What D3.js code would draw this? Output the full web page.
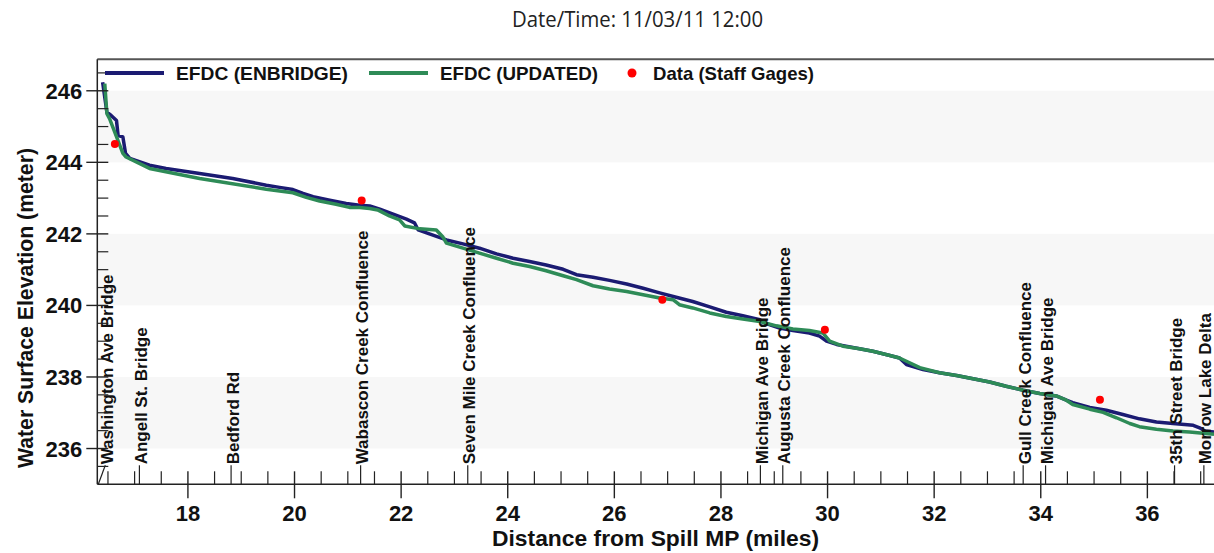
<!DOCTYPE html>
<html>
<head>
<meta charset="utf-8">
<script src="https://cdn.jsdelivr.net/npm/d3@7"></script>
<style>
  html, body { margin: 0; padding: 0; background: #fff; }
  svg { display: block; }
  text { font-family: "Liberation Sans", Arial, sans-serif; }
</style>
</head>
<body>
<div id="chart"></div>
<script>
// ---------------- DATA ----------------
const titleText = "Date/Time: 11/03/11 12:00";
const seriesNames = ["EFDC (ENBRIDGE)", "EFDC (UPDATED)", "Data (Staff Gages)"];

const enbridgeMiles = [16.40,16.48,16.56,16.66,16.69,16.78,16.83,16.91,17.28,17.59,18.22,18.84,19.47,19.72,19.97,20.16,20.35,20.66,20.97,21.22,21.41,21.60,21.85,22.10,22.25,22.32,22.53,22.85,23.16,23.47,23.79,24.10,24.41,24.72,25.04,25.29,25.60,25.91,26.23,26.54,26.85,27.16,27.47,27.79,28.10,28.41,28.73,28.85,29.10,29.35,29.66,29.85,29.98,30.17,30.60,30.85,31.17,31.35,31.48,31.79,32.10,32.42,32.73,33.04,33.35,33.67,33.98,34.29,34.48,34.60,34.92,35.23,35.54,35.85,36.17,36.48,36.86,36.98,37.08,37.25];
const enbridgeElev  = [246.24,245.40,245.31,245.17,244.75,244.71,244.25,244.11,243.92,243.83,243.69,243.55,243.36,243.30,243.24,243.13,243.04,242.94,242.85,242.80,242.78,242.69,242.55,242.41,242.31,242.11,242.00,241.83,241.72,241.60,241.44,241.32,241.23,241.13,241.01,240.86,240.79,240.70,240.60,240.48,240.35,240.23,240.11,239.96,239.81,239.71,239.60,239.49,239.37,239.30,239.23,239.14,239.00,238.91,238.79,238.72,238.60,238.53,238.35,238.21,238.12,238.04,237.95,237.86,237.74,237.63,237.54,237.47,237.35,237.28,237.15,237.07,236.95,236.83,236.74,236.70,236.65,236.58,236.49,236.46];

const updatedMiles = [16.44,16.48,16.53,16.78,16.84,17.28,18.22,19.47,19.72,19.97,20.22,20.47,20.78,21.03,21.22,21.41,21.56,21.78,21.97,22.07,22.35,22.66,22.78,22.85,23.16,23.47,23.79,24.10,24.41,24.72,25.04,25.29,25.60,25.91,26.23,26.54,26.85,27.10,27.22,27.47,27.79,28.10,28.41,28.73,29.04,29.35,29.66,29.91,30.04,30.29,30.60,30.85,31.17,31.35,31.48,31.73,32.10,32.42,32.73,33.04,33.35,33.67,33.98,34.29,34.48,34.60,34.92,35.17,35.42,35.67,35.85,36.17,36.48,36.79,37.25];
const updatedElev  = [246.20,245.36,245.22,244.25,244.15,243.83,243.55,243.25,243.20,243.15,243.02,242.92,242.83,242.74,242.74,242.71,242.67,242.50,242.39,242.22,242.14,242.11,241.92,241.74,241.60,241.46,241.32,241.18,241.09,240.97,240.83,240.72,240.55,240.46,240.39,240.30,240.21,240.16,240.02,239.93,239.79,239.69,239.62,239.55,239.43,239.34,239.30,239.23,239.00,238.86,238.79,238.72,238.60,238.53,238.44,238.26,238.12,238.04,237.95,237.86,237.74,237.63,237.54,237.47,237.35,237.23,237.10,237.01,236.86,236.70,236.61,236.54,236.49,236.46,236.40];

const gageMiles = [16.63, 21.26, 26.90, 29.95, 35.11];
const gageElev  = [244.51, 242.93, 240.16, 239.32, 237.36];

const landmarkNames = ["Washington Ave Bridge","Angell St. Bridge","Bedford Rd","Wabascon Creek Confluence","Seven Mile Creek Confluence","Michigan Ave Bridge","Augusta Creek Confluence","Gull Creek Confluence","Michigan Ave Bridge","35th Street Bridge","Morrow Lake Delta"];
const landmarkMiles = [16.45, 17.09, 18.81, 21.24, 23.25, 28.74, 29.16, 33.67, 34.09, 36.51, 37.06];

const xTickValues = [18, 20, 22, 24, 26, 28, 30, 32, 34, 36];
const yTickValues = [236, 238, 240, 242, 244, 246];
const bandRanges = [[244, 246], [240, 242], [236, 238]];

// ---------------- LAYOUT ----------------
const W = 1214, H = 553;
const pLeft = 97.3, pRight = 1214, pTop = 59.3, pBottom = 484.3;
const navy = "#1b1b72", green = "#2e8b57", red = "#ff0000";

const svg = d3.select("#chart").append("svg").attr("width", W).attr("height", H);

const x = d3.scaleLinear().domain([16.30, 37.25]).range([pLeft, pRight]);
const y = d3.scaleLinear().domain([235, 246.88]).range([pBottom, pTop]);

svg.append("defs").append("clipPath").attr("id", "plotclip")
  .append("rect").attr("x", pLeft).attr("y", pTop).attr("width", pRight - pLeft).attr("height", pBottom - pTop);

// bands
svg.append("g").selectAll("rect").data(bandRanges).join("rect")
  .attr("x", pLeft).attr("width", pRight - pLeft)
  .attr("y", d => y(d[1])).attr("height", d => y(d[0]) - y(d[1]))
  .attr("fill", "#f7f7f7");

// top frame
svg.append("line").attr("x1", pLeft).attr("x2", pRight).attr("y1", pTop).attr("y2", pTop)
  .attr("stroke", "#555").attr("stroke-width", 2);

// title
svg.append("text").attr("x", 512).attr("y", 26.5)
  .attr("textLength", 251).attr("lengthAdjust", "spacingAndGlyphs")
  .style("font-family", "'Open Sans', 'Noto Sans', sans-serif")
  .style("font-size", "21px").attr("fill", "#222").text(titleText);

// lines
const lineGen = d3.line().x(d => x(d[0])).y(d => y(d[1]));
const plot = svg.append("g").attr("clip-path", "url(#plotclip)");
plot.append("path").datum(d3.zip(enbridgeMiles, enbridgeElev))
  .attr("d", lineGen).attr("fill", "none").attr("stroke", navy).attr("stroke-width", 3.5)
  .attr("stroke-linejoin", "round");
plot.append("path").datum(d3.zip(updatedMiles, updatedElev))
  .attr("d", lineGen).attr("fill", "none").attr("stroke", green).attr("stroke-width", 3.5)
  .attr("stroke-linejoin", "round");
plot.append("g").selectAll("circle").data(d3.zip(gageMiles, gageElev)).join("circle")
  .attr("cx", d => x(d[0])).attr("cy", d => y(d[1])).attr("r", 4).attr("fill", red);

// landmark ticks & labels
const lm = svg.append("g");
lm.selectAll("line").data(landmarkMiles).join("line")
  .attr("x1", (d, i) => i === 0 ? x.range()[0] + 1 : x(d))
  .attr("x2", d => x(d))
  .attr("y1", pBottom).attr("y2", pBottom - 19)
  .attr("stroke", "#222").attr("stroke-width", 1.2);
lm.selectAll("text").data(d3.zip(landmarkMiles, landmarkNames)).join("text")
  .attr("transform", d => `translate(${x(d[0]) + 7.5},${pBottom - 20}) rotate(-90)`)
  .attr("text-anchor", "start")
  .style("font-size", "17px").style("font-weight", "bold").attr("fill", "#111")
  .text(d => d[1]);

// x axis
const xAxisG = svg.append("g").attr("transform", `translate(0,${pBottom})`);
xAxisG.append("line").attr("x1", pLeft).attr("x2", pRight).attr("stroke", "#222").attr("stroke-width", 1.5);
const xMinor = d3.range(16.5, 37.3, 0.5).filter(v => !xTickValues.includes(v));
xAxisG.selectAll("line.minor").data(xMinor).join("line").attr("class", "minor")
  .attr("x1", d => x(d)).attr("x2", d => x(d)).attr("y1", 0).attr("y2", -13)
  .attr("stroke", "#222").attr("stroke-width", 1.2);
xAxisG.selectAll("line.major").data(xTickValues).join("line").attr("class", "major")
  .attr("x1", d => x(d)).attr("x2", d => x(d)).attr("y1", -13).attr("y2", 14)
  .attr("stroke", "#222").attr("stroke-width", 1.4);
xAxisG.selectAll("text").data(xTickValues).join("text")
  .attr("x", d => x(d)).attr("y", 36.5).attr("text-anchor", "middle")
  .style("font-size", "22px").style("font-weight", "bold").attr("fill", "#111")
  .text(d => d);

// y axis
const yAxisG = svg.append("g").attr("transform", `translate(${pLeft},0)`);
yAxisG.append("line").attr("y1", pTop).attr("y2", pBottom).attr("stroke", "#222").attr("stroke-width", 1.5);
const yMinor = d3.range(235.5, 246.6, 0.5).filter(v => !yTickValues.includes(v));
yAxisG.selectAll("line.minor").data(yMinor).join("line").attr("class", "minor")
  .attr("y1", d => y(d)).attr("y2", d => y(d)).attr("x1", 0).attr("x2", 11)
  .attr("stroke", "#222").attr("stroke-width", 1.2);
yAxisG.selectAll("line.major").data(yTickValues).join("line").attr("class", "major")
  .attr("y1", d => y(d)).attr("y2", d => y(d)).attr("x1", -11).attr("x2", 11)
  .attr("stroke", "#222").attr("stroke-width", 1.4);
yAxisG.selectAll("text").data(yTickValues).join("text")
  .attr("x", -15).attr("y", d => y(d) + 8).attr("text-anchor", "end")
  .style("font-size", "22px").style("font-weight", "bold").attr("fill", "#111")
  .text(d => d);

// axis titles
svg.append("text").attr("x", 655.5).attr("y", 546).attr("text-anchor", "middle")
  .attr("textLength", 327).attr("lengthAdjust", "spacingAndGlyphs")
  .style("font-size", "22px").style("font-weight", "bold").attr("fill", "#111")
  .text("Distance from Spill MP (miles)");
svg.append("text").attr("transform", "translate(33,308) rotate(-90)").attr("text-anchor", "middle")
  .attr("textLength", 320).attr("lengthAdjust", "spacingAndGlyphs")
  .style("font-size", "22px").style("font-weight", "bold").attr("fill", "#111")
  .text("Water Surface Elevation (meter)");

// legend
const legend = svg.append("g");
const legY = 73;
legend.append("line").attr("x1", 105).attr("x2", 164).attr("y1", legY).attr("y2", legY)
  .attr("stroke", navy).attr("stroke-width", 4);
legend.append("text").attr("x", 176).attr("y", legY + 7).attr("textLength", 172).attr("lengthAdjust", "spacingAndGlyphs")
  .style("font-size", "19px").style("font-weight", "bold").attr("fill", "#111").text(seriesNames[0]);
legend.append("line").attr("x1", 369).attr("x2", 428).attr("y1", legY).attr("y2", legY)
  .attr("stroke", green).attr("stroke-width", 4);
legend.append("text").attr("x", 440).attr("y", legY + 7).attr("textLength", 158).attr("lengthAdjust", "spacingAndGlyphs")
  .style("font-size", "19px").style("font-weight", "bold").attr("fill", "#111").text(seriesNames[1]);
legend.append("circle").attr("cx", 632).attr("cy", legY).attr("r", 4.5).attr("fill", red);
legend.append("text").attr("x", 653).attr("y", legY + 7).attr("textLength", 161).attr("lengthAdjust", "spacingAndGlyphs")
  .style("font-size", "19px").style("font-weight", "bold").attr("fill", "#111").text(seriesNames[2]);
</script>
</body>
</html>
